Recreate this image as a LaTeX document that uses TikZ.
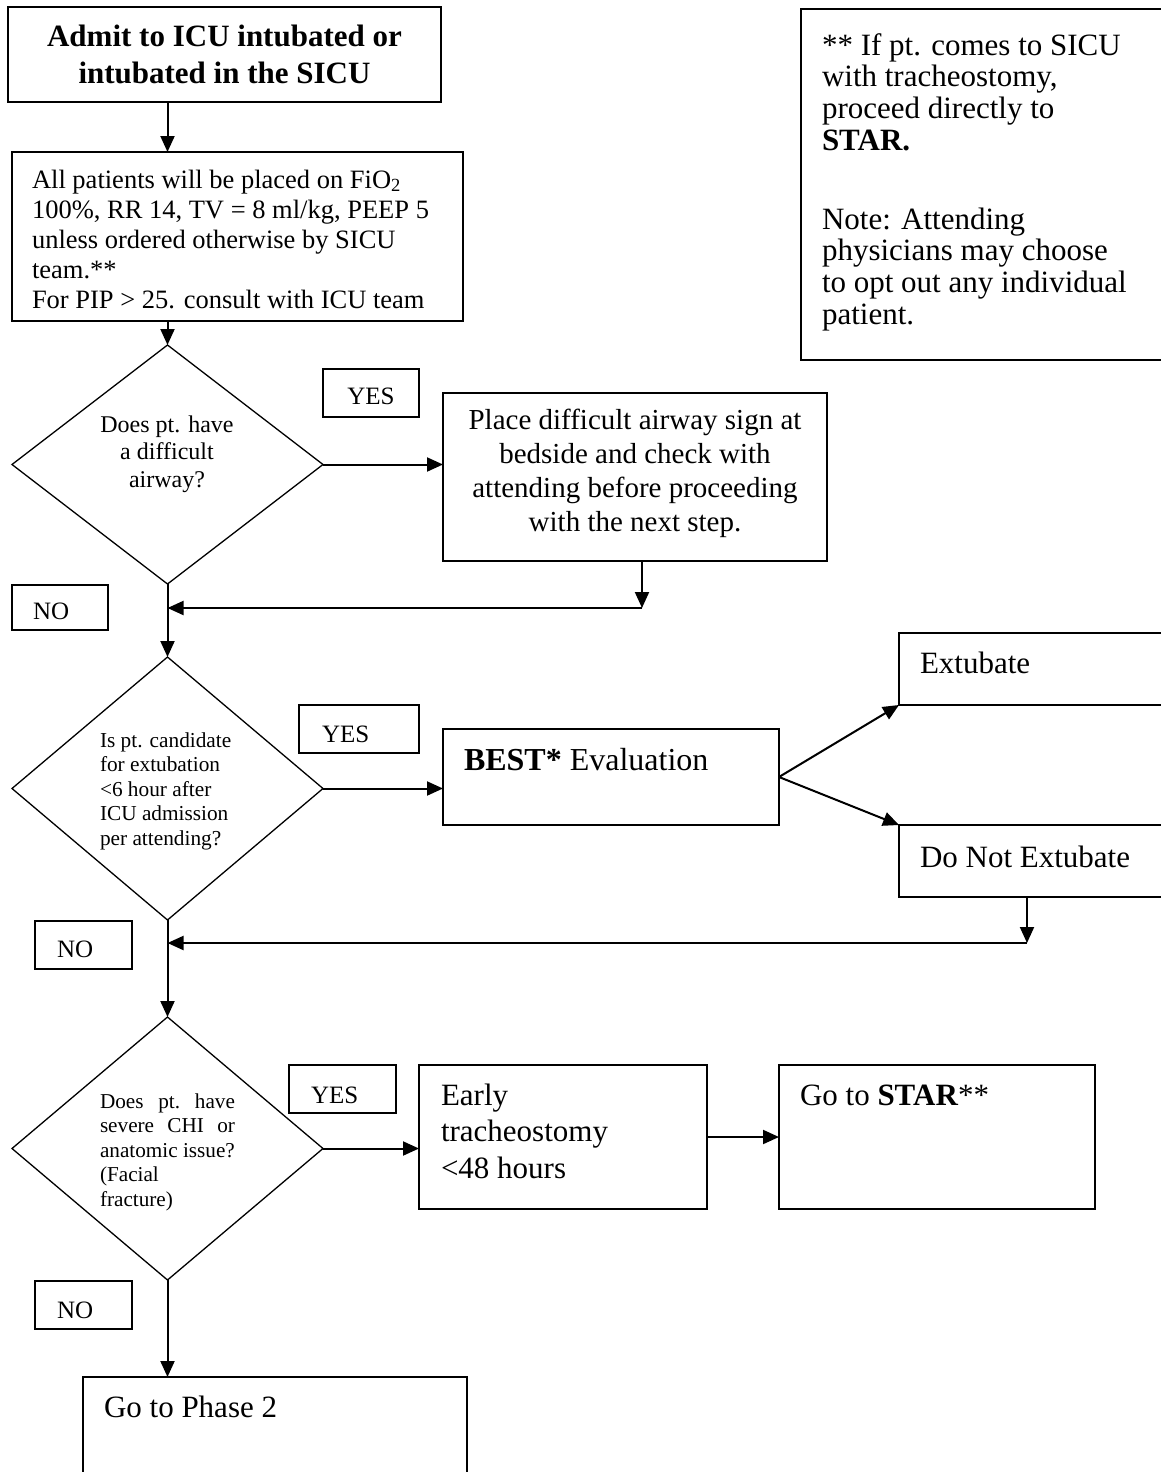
\documentclass[tikz,border=0pt]{standalone}
\usepackage{fontspec}
\setmainfont{Liberation Serif}
\usetikzlibrary{arrows.meta,shapes.geometric}
\newcommand{\myfs}[2]{\fontsize{#1}{#2}\selectfont}
\begin{document}
\begin{tikzpicture}[x=1pt,y=-1pt,
 bx/.style={draw,line width=1.8pt,rectangle,inner sep=0,outer sep=0},
 dia/.style={draw,line width=1.3pt,diamond,inner sep=0,outer sep=0,minimum width=311pt},
 arr/.style={line width=2pt,-{Triangle[length=16pt,width=14pt]}},
 tl/.style={inner sep=0,outer sep=0,anchor=base west,align=left},
 tc/.style={inner sep=0,outer sep=0,anchor=base,align=center}]
\clip (0,0) rectangle (1161,1472);
\fill[white] (0,0) rectangle (1161,1472);

% boxes
\node[bx,minimum width=433pt,minimum height=95pt] (admit) at (224.5,54.5) {};
\node[bx,minimum width=451pt,minimum height=169pt] (vent) at (237.5,236.5) {};
\node[bx,minimum width=379pt,minimum height=351pt] (note) at (990.5,184.5) {};
\node[bx,minimum width=96pt,minimum height=48pt] (yes1) at (371,393) {};
\node[bx,minimum width=384pt,minimum height=168pt] (place) at (635,477) {};
\node[bx,minimum width=96pt,minimum height=45pt] (no1) at (60,607.5) {};
\node[bx,minimum width=120pt,minimum height=48pt] (yes2) at (359,729) {};
\node[bx,minimum width=336pt,minimum height=96pt] (best) at (611,777) {};
\node[bx,minimum width=281pt,minimum height=72pt] (ext) at (1039.5,669) {};
\node[bx,minimum width=281pt,minimum height=72pt] (dne) at (1039.5,861) {};
\node[bx,minimum width=97pt,minimum height=48pt] (no2) at (83.5,945) {};
\node[bx,minimum width=107pt,minimum height=48pt] (yes3) at (342.5,1089) {};
\node[bx,minimum width=288pt,minimum height=144pt] (early) at (563,1137) {};
\node[bx,minimum width=316pt,minimum height=144pt] (star) at (937,1137) {};
\node[bx,minimum width=97pt,minimum height=48pt] (no3) at (83.5,1305) {};
\node[bx,minimum width=384pt,minimum height=123pt] (phase) at (275,1438.5) {};

% diamonds
\node[dia,minimum height=239pt] (d1) at (167.5,464.5) {};
\node[dia,minimum height=263pt] (d2) at (167.5,788.5) {};
\node[dia,minimum height=263pt] (d3) at (167.5,1148.5) {};

% texts (multi-line nodes are placed by the baseline of their last line)
\node[tc,font=\bfseries\myfs{31}{36}] (tadmit) at (224.5,83) {Admit to ICU intubated or\\intubated in the SICU};
\node[tl,font=\myfs{26.5}{30}] (tvent) at (32,308) {All patients will be placed on FiO\textsubscript{2}\\100\%, RR 14, TV = 8 ml/kg, PEEP 5\\unless ordered otherwise by SICU\\team.**\\For PIP \textgreater{} 25. consult with ICU team};
\node[tl,font=\myfs{31}{31.7}] (tnote1) at (822,150.1) {** If pt. comes to SICU\\with tracheostomy,\\proceed directly to\\\textbf{STAR.}};
\node[tl,font=\myfs{31}{31.7}] (tnote2) at (822,324.1) {Note: Attending\\physicians may choose\\to opt out any individual\\patient.};
\node[tc,font=\myfs{24}{27.5}] (td1) at (167,487) {Does pt. have\\a difficult\\airway?};
\node[tc,font=\myfs{25}{30}] (tyes1) at (371,404) {YES};
\node[tc,font=\myfs{29}{33.7}] (tplace) at (635,531) {Place difficult airway sign at\\bedside and check with\\attending before proceeding\\with the next step.};
\node[tl,font=\myfs{25}{30}] (tno1) at (33,619) {NO};
\node[tl,font=\myfs{21.3}{24.5}] (td2) at (100,845) {Is pt. candidate\\for extubation\\\textless6 hour after\\ICU admission\\per attending?};
\node[tl,font=\myfs{25}{30}] (tyes2) at (322,742) {YES};
\node[tl,font=\myfs{32}{36}] (tbest) at (464,770) {\textbf{BEST*} Evaluation};
\node[tl,font=\myfs{31}{36}] (text) at (920,673) {Extubate};
\node[tl,font=\myfs{31}{36}] (tdne) at (920,867) {Do Not Extubate};
\node[tl,font=\myfs{25}{30}] (tno2) at (57,957) {NO};
\node[tl,font=\myfs{21.2}{24.5}] (td3) at (100,1206) {\hbox to 135pt{Does\hfill pt.\hfill have}\\\hbox to 135pt{severe\hfill CHI\hfill or}\\anatomic issue?\\(Facial\\fracture)};
\node[tl,font=\myfs{25}{30}] (tyes3) at (311,1103) {YES};
\node[tl,font=\myfs{31}{36.5}] (tearly) at (441,1178) {Early\\tracheostomy\\\textless48 hours};
\node[tl,font=\myfs{31}{36}] (tstar) at (800,1105) {Go to \textbf{STAR}**};
\node[tl,font=\myfs{25}{30}] (tno3) at (57,1318) {NO};
\node[tl,font=\myfs{31}{36}] (tphase) at (104,1417) {Go to Phase 2};

% junction coordinates
\coordinate (j1) at (642,608);
\coordinate (j2) at (1027,943);

% connectors
\draw[arr] (d1.north |- admit.south) -- (d1.north |- vent.north);
\draw[arr] (d1.north |- vent.south) -- (d1.north);
\draw[arr] (d1.east) -- (d1.east -| place.west);
\draw[arr] (place.south -| j1) -- (j1);
\draw[arr] (j1) -- (j1 -| d1.south);
\draw[arr] (d1.south) -- (d2.north);
\draw[arr] (d2.east) -- (d2.east -| best.west);
\draw[arr] (best.east) -- (ext.south west);
\draw[arr] (best.east) -- (dne.north west);
\draw[arr] (dne.south -| j2) -- (j2);
\draw[arr] (j2) -- (j2 -| d2.south);
\draw[arr] (d2.south) -- (d3.north);
\draw[arr] (d3.east) -- (d3.east -| early.west);
\draw[arr] (early.east) -- (star.west);
\draw[arr] (d3.south) -- (d3.south |- phase.north);
\end{tikzpicture}
\end{document}
